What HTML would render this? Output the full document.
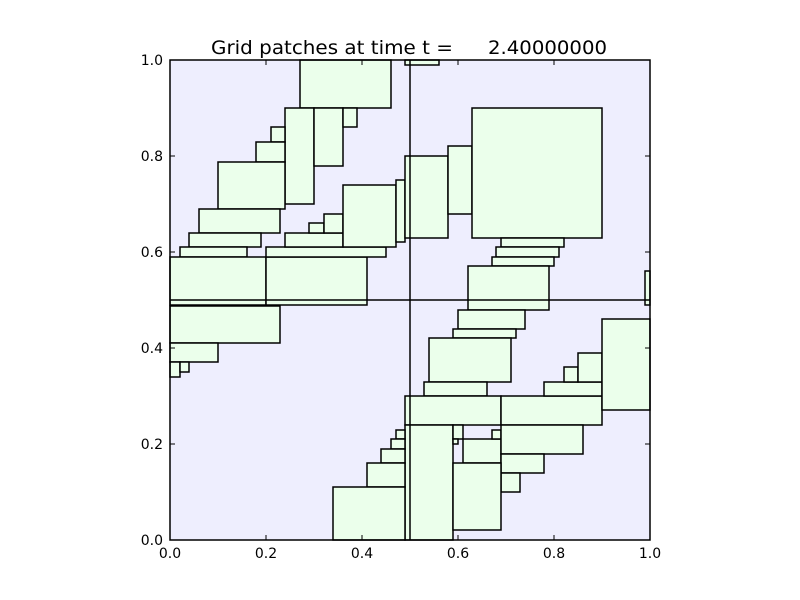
<!DOCTYPE html>
<html><head><meta charset="utf-8"><style>body{margin:0;background:#fff}svg{display:block}</style></head><body>
<svg width="800" height="600" xmlns="http://www.w3.org/2000/svg" font-family="DejaVu Sans, Liberation Sans, sans-serif">
<rect x="0" y="0" width="800" height="600" fill="#fff"/>
<rect x="170" y="60" width="480" height="480" fill="#eeeefe"/>
<g fill="#ebffeb" stroke="#000" stroke-width="1.5">
<rect x="300" y="60" width="91" height="48"/>
<rect x="285" y="108" width="29" height="96"/>
<rect x="314" y="108" width="29" height="58"/>
<rect x="343" y="108" width="14" height="19"/>
<rect x="271" y="127" width="14" height="15"/>
<rect x="256" y="142" width="29" height="20"/>
<rect x="218" y="162" width="67" height="47"/>
<rect x="199" y="209" width="81" height="24"/>
<rect x="189" y="233" width="72" height="14"/>
<rect x="180" y="247" width="67" height="10"/>
<rect x="170" y="257" width="96" height="48"/>
<rect x="266" y="257" width="101" height="48"/>
<rect x="266" y="247" width="120" height="10"/>
<rect x="285" y="233" width="58" height="14"/>
<rect x="309" y="223" width="15" height="10"/>
<rect x="324" y="214" width="19" height="19"/>
<rect x="343" y="185" width="53" height="62"/>
<rect x="396" y="180" width="9" height="62"/>
<rect x="405" y="156" width="43" height="82"/>
<rect x="405" y="60" width="34" height="5"/>
<rect x="448" y="146" width="24" height="68"/>
<rect x="472" y="108" width="130" height="130"/>
<rect x="501" y="238" width="63" height="9"/>
<rect x="496" y="247" width="63" height="10"/>
<rect x="492" y="257" width="62" height="9"/>
<rect x="468" y="266" width="81" height="44"/>
<rect x="645" y="271" width="5" height="34"/>
<rect x="458" y="310" width="67" height="19"/>
<rect x="453" y="329" width="63" height="9"/>
<rect x="429" y="338" width="82" height="44"/>
<rect x="424" y="382" width="63" height="14"/>
<rect x="405" y="396" width="96" height="29"/>
<rect x="501" y="396" width="101" height="29"/>
<rect x="544" y="382" width="58" height="14"/>
<rect x="564" y="367" width="14" height="15"/>
<rect x="578" y="353" width="24" height="29"/>
<rect x="602" y="319" width="48" height="91"/>
<rect x="405" y="425" width="48" height="115"/>
<rect x="453" y="425" width="10" height="14"/>
<rect x="453" y="439" width="5" height="5"/>
<rect x="463" y="439" width="38" height="24"/>
<rect x="492" y="430" width="9" height="9"/>
<rect x="501" y="425" width="82" height="29"/>
<rect x="501" y="454" width="43" height="19"/>
<rect x="501" y="473" width="19" height="19"/>
<rect x="453" y="463" width="48" height="67"/>
<rect x="170" y="306" width="110" height="37"/>
<rect x="170" y="343" width="48" height="19"/>
<rect x="170" y="362" width="10" height="15"/>
<rect x="180" y="362" width="9" height="10"/>
<rect x="396" y="430" width="9" height="9"/>
<rect x="391" y="439" width="14" height="10"/>
<rect x="381" y="449" width="24" height="14"/>
<rect x="367" y="463" width="38" height="24"/>
<rect x="333" y="487" width="72" height="53"/>
</g>
<g stroke="#000" stroke-width="1.5">
<line x1="410" y1="60" x2="410" y2="540"/>
<line x1="170" y1="300" x2="650" y2="300"/>
</g>
<rect x="170" y="60" width="480" height="480" fill="none" stroke="#000" stroke-width="1.5"/>
<g stroke="#000" stroke-width="1">
<line x1="266" y1="540" x2="266" y2="535"/><line x1="362" y1="540" x2="362" y2="535"/><line x1="458" y1="540" x2="458" y2="535"/><line x1="554" y1="540" x2="554" y2="535"/>
<line x1="266" y1="60" x2="266" y2="65"/><line x1="362" y1="60" x2="362" y2="65"/><line x1="458" y1="60" x2="458" y2="65"/><line x1="554" y1="60" x2="554" y2="65"/>
<line x1="170" y1="444" x2="175" y2="444"/><line x1="170" y1="348" x2="175" y2="348"/><line x1="170" y1="252" x2="175" y2="252"/><line x1="170" y1="156" x2="175" y2="156"/>
<line x1="650" y1="444" x2="645" y2="444"/><line x1="650" y1="348" x2="645" y2="348"/><line x1="650" y1="252" x2="645" y2="252"/><line x1="650" y1="156" x2="645" y2="156"/>
</g>
<g font-size="14" fill="#000" text-anchor="middle">
<text x="170" y="558">0.0</text><text x="266" y="558">0.2</text><text x="362" y="558">0.4</text><text x="458" y="558">0.6</text><text x="554" y="558">0.8</text><text x="650" y="558">1.0</text>
</g>
<g font-size="14" fill="#000" text-anchor="end">
<text x="163" y="545">0.0</text><text x="163" y="449">0.2</text><text x="163" y="353">0.4</text><text x="163" y="257">0.6</text><text x="163" y="161">0.8</text><text x="163" y="65">1.0</text>
</g>
<text x="211" y="54" font-size="19" textLength="242" lengthAdjust="spacingAndGlyphs">Grid patches at time t =</text>
<text x="488" y="54" font-size="19" textLength="119" lengthAdjust="spacingAndGlyphs">2.40000000</text>
</svg>
</body></html>
